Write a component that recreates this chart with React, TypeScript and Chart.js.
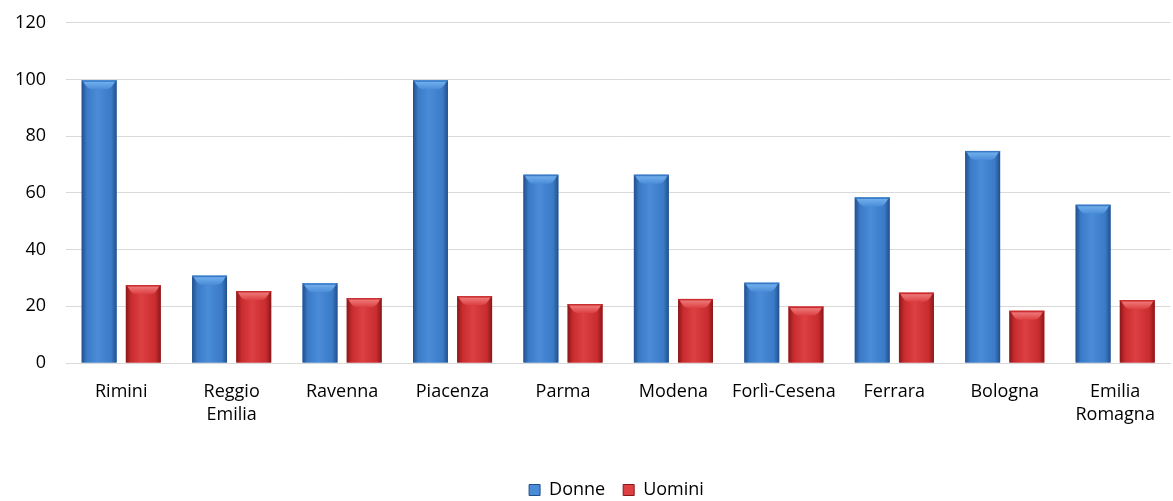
import React, { useEffect, useRef } from "react";
import { Chart, registerables } from "chart.js";

Chart.register(...registerables);

const categories: string[][] = [
  ["Rimini"],
  ["Reggio", "Emilia"],
  ["Ravenna"],
  ["Piacenza"],
  ["Parma"],
  ["Modena"],
  ["Forlì-Cesena"],
  ["Ferrara"],
  ["Bologna"],
  ["Emilia", "Romagna"],
];
const donne = [99.7, 30.8, 28.1, 99.7, 66.4, 66.4, 28.3, 58.4, 74.8, 55.8];
const uomini = [27.5, 25.4, 22.9, 23.6, 20.8, 22.6, 19.9, 24.8, 18.4, 22.2];
const yTicks = [0, 20, 40, 60, 80, 100, 120];

const FONT = "'Open Sans', sans-serif";

const palettes = [
  { edge: "#234f8c", mid: "#3a7ac6", light: "#4a8cd8", cap: "#78b6f0" },
  { edge: "#8a1719", mid: "#c82c2e", light: "#dc4042", cap: "#f28484" },
];

const bevelPlugin = {
  id: "bevel",
  afterLayout(chart: any) {
    const lg = chart.legend;
    if (lg) {
      lg.left += 31;
      lg.right += 31;
    }
  },
  afterDatasetDraw(chart: any, args: any) {
    const ctx = chart.ctx;
    const pal = palettes[args.index];
    const meta = args.meta;
    ctx.save();
    meta.data.forEach((bar: any) => {
      const { x, y, base, width } = bar.getProps(["x", "y", "base", "width"], true);
      const left = x - width / 2;
      const top = Math.min(y, base);
      const h = Math.abs(base - y);
      const g = ctx.createLinearGradient(left, 0, left + width, 0);
      g.addColorStop(0, pal.edge);
      g.addColorStop(0.15, pal.mid);
      g.addColorStop(0.45, pal.light);
      g.addColorStop(0.85, pal.mid);
      g.addColorStop(1, pal.edge);
      ctx.fillStyle = g;
      ctx.fillRect(left, top, width, h);
      const capH = Math.min(9, h);
      const cg = ctx.createLinearGradient(0, top, 0, top + capH);
      cg.addColorStop(0, pal.cap);
      cg.addColorStop(1, pal.light);
      ctx.beginPath();
      ctx.moveTo(left + 1, top);
      ctx.lineTo(left + width - 1, top);
      ctx.quadraticCurveTo(left + width - 5, top + capH, left + width - 10, top + capH);
      ctx.lineTo(left + 10, top + capH);
      ctx.quadraticCurveTo(left + 5, top + capH, left + 1, top);
      ctx.closePath();
      ctx.fillStyle = cg;
      ctx.fill();
      ctx.fillStyle = pal.mid;
      ctx.fillRect(left, top, width, 1.5);
    });
    ctx.restore();
  },
};

export default function App() {
  const ref = useRef<HTMLCanvasElement | null>(null);
  useEffect(() => {
    if (!ref.current) return;
    const chart = new Chart(ref.current, {
      type: "bar",
      data: {
        labels: categories,
        datasets: [
          { label: "Donne", data: donne, backgroundColor: "#3a7ac6", borderWidth: 0 },
          { label: "Uomini", data: uomini, backgroundColor: "#c82c2e", borderWidth: 0 },
        ],
      },
      options: {
        animation: false,
        responsive: true,
        maintainAspectRatio: false,
        layout: { padding: { top: 6, right: 2, left: 0, bottom: 0 } },
        datasets: { bar: { categoryPercentage: 0.8, barPercentage: 0.79 } },
        scales: {
          x: {
            grid: { display: false, drawTicks: false },
            border: { display: true, color: "#d9d9d9", width: 1 },
            ticks: {
              color: "#000",
              font: { family: FONT, size: 18, lineHeight: 1.25 },
              padding: 18,
              maxRotation: 0,
              autoSkip: false,
            },
            afterFit(scale: any) {
              scale.height = 100;
            },
          },
          y: {
            min: 0,
            max: 120,
            afterBuildTicks(scale: any) {
              scale.ticks = yTicks.map((v) => ({ value: v }));
            },
            grid: { color: "#d9d9d9", lineWidth: 1, drawTicks: false },
            border: { display: false },
            ticks: {
              color: "#000",
              font: { family: FONT, size: 18 },
              padding: 20,
            },
            afterFit(scale: any) {
              scale.width = 66;
            },
          },
        },
        plugins: {
          legend: {
            position: "bottom",
            labels: {
              color: "#000",
              font: { family: FONT, size: 18 },
              boxWidth: 11,
              boxHeight: 11,
              padding: 18,
              generateLabels(chart: any) {
                return chart.data.datasets.map((ds: any, i: number) => ({
                  text: ds.label,
                  fillStyle: palettes[i].light,
                  strokeStyle: palettes[i].edge,
                  lineWidth: 1,
                  datasetIndex: i,
                  hidden: false,
                }));
              },
            },
          },
          tooltip: { enabled: false },
        },
      },
      plugins: [bevelPlugin],
    });
    return () => chart.destroy();
  }, []);
  return (
    <div style={{ position: "fixed", inset: 0, overflow: "hidden", background: "#fff" }}>
      <div style={{ position: "absolute", left: 0, top: -8, width: 1173, height: 517 }}>
        <canvas ref={ref} />
      </div>
    </div>
  );
}
